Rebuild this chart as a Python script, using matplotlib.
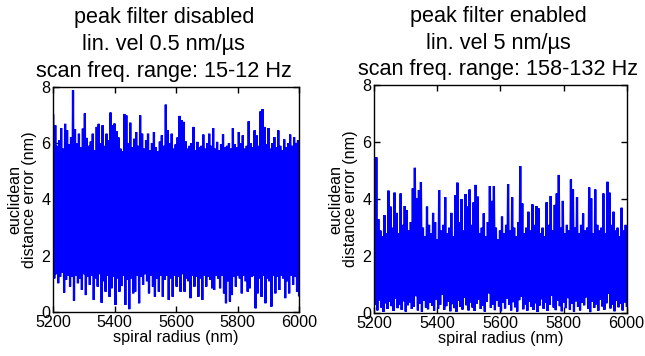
import numpy as np
import matplotlib
matplotlib.use("Agg")
import matplotlib.pyplot as plt

plt.rcParams['font.family'] = ['Liberation Sans', 'DejaVu Sans']

titles = ["peak filter disabled\nlin. vel 0.5 nm/\u00b5s\nscan freq. range: 15-12 Hz",
          "peak filter enabled\nlin. vel 5 nm/\u00b5s\nscan freq. range: 158-132 Hz"]
x_label = "spiral radius (nm)"
y_label = "euclidean\ndistance error (nm)"
x_ticks = [5200, 5400, 5600, 5800, 6000]
y_ticks = [0, 2, 4, 6, 8]

# local maxima / minima of the error signal (left panel)
left_high = [6.98, 6.63, 5.9, 6.1, 6.53, 5.8, 6.68, 6.45, 5.95, 6.2,
             7.87, 6.49, 6.0, 6.33, 5.85, 6.51, 7.05, 6.18, 5.9, 6.05,
             6.33, 5.75, 6.57, 6.68, 6.0, 6.63, 5.9, 6.33, 6.1, 7.08,
             6.63, 6.69, 6.42, 6.2, 5.8, 5.7, 7.03, 6.98, 6.0, 6.72,
             5.85, 6.15, 6.39, 5.9, 6.98, 6.33, 5.8, 6.1, 6.33, 5.75,
             6.0, 6.39, 5.85, 5.7, 6.05, 6.27, 5.9, 7.36, 6.45, 6.0,
             6.33, 5.8, 5.95, 6.2, 6.96, 6.81, 6.75, 6.06, 5.8, 5.9,
             6.0, 6.57, 5.75, 6.04, 5.85, 5.9, 6.30, 5.8, 6.0, 6.33,
             5.9, 6.53, 5.8, 6.04, 5.75, 5.95, 6.31, 5.85, 5.9, 6.0,
             5.8, 6.53, 5.95, 5.85, 6.39, 6.0, 6.27, 5.8, 5.9, 6.77,
             6.0, 5.85, 6.45, 6.27, 5.9, 7.12, 7.20, 6.57, 5.95, 6.53,
             5.8, 6.0, 6.21, 5.85, 6.45, 5.9, 5.75, 6.13, 5.85, 6.0,
             6.30, 5.9, 6.21, 6.0, 6.10]
left_low = [1.20, 1.35, 1.03, 1.26, 1.4, 0.70, 1.15, 1.3, 0.91, 1.25,
            0.41, 1.3, 1.03, 1.2, 0.79, 1.35, 0.61, 1.25, 0.97, 1.3,
            0.44, 1.2, 0.91, 1.35, 0.34, 1.1, 0.73, 1.3, 0.55, 0.85,
            1.25, 0.26, 1.2, 0.73, 0.93, 1.3, 0.26, 1.15, 0.11, 1.2,
            0.67, 0.73, 1.3, 0.32, 1.25, 0.97, 1.35, 1.1, 0.67, 1.3,
            0.91, 0.55, 1.2, 0.73, 1.3, 0.55, 1.15, 1.3, 0.44, 1.2,
            0.55, 1.3, 0.91, 1.25, 0.73, 1.35, 0.73, 1.2, 1.1, 0.50,
            1.3, 0.91, 1.25, 0.55, 1.2, 0.44, 1.3, 0.91, 1.25, 1.15,
            0.85, 0.79, 1.3, 1.2, 0.85, 1.3, 0.67, 0.32, 1.1, 0.38,
            0.61, 1.25, 0.91, 1.3, 1.2, 0.67, 1.3, 1.1, 0.73, 0.85,
            1.25, 1.3, 0.14, 0.67, 1.2, 0.55, 1.3, 0.32, 1.2, 1.1,
            0.20, 1.3, 0.67, 1.25, 0.79, 1.3, 1.2, 0.50, 1.1, 0.67,
            1.3, 0.97, 1.25, 0.73, 0.6]

# right panel
right_high = [3.4, 5.47, 3.3, 2.9, 2.7, 3.44, 2.8, 4.30, 3.74, 3.0,
              4.23, 3.52, 2.8, 4.20, 3.1, 3.76, 3.62, 2.9, 3.2, 4.38,
              5.10, 4.03, 4.32, 4.60, 3.0, 2.7, 3.74, 3.1, 2.8, 3.52,
              3.2, 2.6, 4.32, 2.9, 3.1, 4.07, 2.8, 3.0, 3.52, 2.7,
              4.14, 4.58, 3.2, 4.00, 2.9, 4.18, 3.74, 4.34, 3.1, 3.89,
              4.50, 4.09, 2.8, 3.0, 3.50, 2.7, 3.2, 4.46, 3.94, 4.46,
              3.0, 2.6, 2.9, 3.39, 2.8, 3.1, 4.53, 2.9, 4.07, 3.0,
              2.7, 3.2, 5.16, 3.85, 2.8, 3.0, 3.56, 2.9, 3.82, 3.1,
              3.76, 3.68, 2.8, 3.0, 2.7, 3.89, 3.1, 4.11, 2.9, 3.80,
              4.20, 4.85, 3.0, 3.94, 2.8, 3.1, 2.9, 4.69, 4.34, 3.0,
              4.07, 2.8, 3.1, 3.50, 2.9, 3.0, 4.41, 4.03, 2.8, 4.34,
              3.1, 2.9, 3.0, 4.20, 2.8, 4.61, 4.23, 3.1, 3.56, 2.9,
              3.0, 2.7, 3.70, 2.9, 3.1]
right_low = [0.30, 0.10, 0.45, 0.20, 0.05, 0.35, 0.15, 0.40, 0.25, 0.08,
             0.50, 0.18, 0.30, 0.12, 0.42, 0.06, 0.28, 0.38, 0.15, 0.22,
             0.60, 0.10, 0.33, 0.05, 0.45, 0.20, 0.14, 0.36, 0.27, 0.09,
             0.48, 0.16, 0.30, 0.65, 0.12, 0.25, 0.40, 0.07, 0.32, 0.18,
             0.05, 0.44, 0.22, 0.13, 0.55, 0.28, 0.10, 0.38, 0.20, 0.08,
             0.34, 0.47, 0.15, 0.26, 0.06, 0.40, 0.70, 0.19, 0.30, 0.11,
             0.43, 0.24, 0.07, 0.36, 0.17, 0.52, 0.29, 0.10, 0.39, 0.21,
             0.06, 0.46, 0.58, 0.14, 0.31, 0.09, 0.41, 0.23, 0.12, 0.35,
             0.05, 0.27, 0.49, 0.16, 0.37, 0.08, 0.30, 0.62, 0.20, 0.11,
             0.44, 0.25, 0.07, 0.38, 0.18, 0.53, 0.13, 0.33, 0.06, 0.42,
             0.22, 0.10, 0.36, 0.28, 0.56, 0.15, 0.04, 0.40, 0.19, 0.31,
             0.09, 0.47, 0.24, 0.12, 0.35, 0.68, 0.17, 0.29, 0.07, 0.43,
             0.21, 0.33, 0.10, 0.38, 0.26]

fig = plt.figure(figsize=(6.45, 3.56), dpi=100)
ax1 = fig.add_axes([0.0826, 0.1228, 0.381, 0.634])
ax2 = fig.add_axes([0.5803, 0.1200, 0.3913, 0.641])

def signal(high, low):
    y = np.column_stack([high, low]).ravel()
    x = np.linspace(x_ticks[0], x_ticks[-1], len(y))
    return x, y

for ax, hi, lo, title, tx in [(ax1, left_high, left_low, titles[0], 0.45),
                              (ax2, right_high, right_low, titles[1], 0.492)]:
    x, y = signal(hi, lo)
    ax.plot(x, y, color=(0, 0, 1), lw=1.6, solid_joinstyle='miter')
    ax.set_xlim(5200, 6000)
    ax.set_ylim(0, 8)
    ax.set_xticks(x_ticks)
    ax.set_yticks(y_ticks)
    ax.tick_params(direction='in', top=True, right=True, length=4, width=1,
                   labelsize=11.6, pad=2)
    for s in ax.spines.values():
        s.set_linewidth(1)
        s.set_zorder(5)
    ax.set_xlabel(x_label, fontsize=11.6, labelpad=0)
    ax.set_ylabel(y_label, fontsize=11.6, labelpad=3, linespacing=1.0)
    ax.set_title(title, fontsize=15.6, x=tx, linespacing=1.36, pad=7)

fig.savefig("out.png", dpi=100)
